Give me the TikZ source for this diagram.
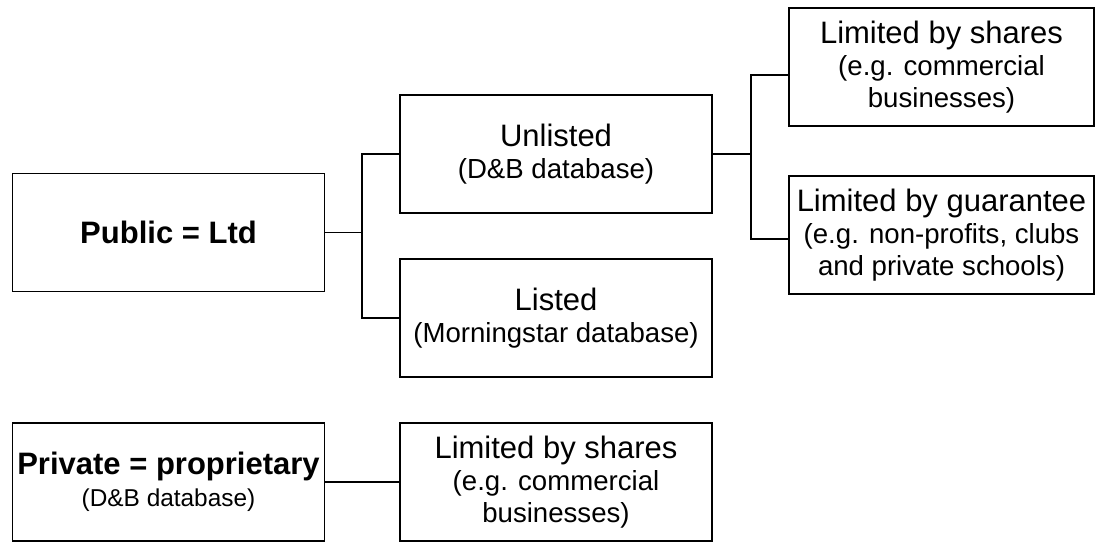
\documentclass[tikz,border=0pt]{standalone}
\usepackage{fontspec}
\setmainfont{Liberation Sans}
\usetikzlibrary{calc}
\newcommand\TitleF{\fontsize{15.5}{16.5}\selectfont}
\newcommand\SubF{\fontsize{13.8}{16}\selectfont}
\newcommand\SmallF{\fontsize{12.2}{15}\selectfont}
\begin{document}
\begin{tikzpicture}[x=0.5pt,y=-0.5pt,
  box/.style={draw=black, line width=0.75pt, inner sep=0pt, align=center,
    minimum width=156pt, minimum height=59pt, font=\SubF},
  rbox/.style={box, minimum width=152.5pt},
  link/.style={draw=black, line width=0.75pt}]
\useasboundingbox (0,0) rectangle (1095,543);
\node[box] (pub) at (168.5,232.5) {\TitleF\bfseries Public = Ltd};
\node[box] (unl) at (556,154) {{\TitleF Unlisted}\\(D\&B database)};
\node[box] (lis) at (556,318) {{\TitleF Listed}\\(Morningstar database)};
\node[rbox] (lbs) at (941.5,67) {{\TitleF Limited by shares}\\(e.g. commercial\\businesses)};
\node[rbox] (lbg) at (941.5,235) {{\TitleF Limited by guarantee}\\(e.g. non-profits, clubs\\and private schools)};
\node[box] (pri) at (168.5,482) {{\TitleF\bfseries Private = proprietary}\\{\SmallF (D\&B database)}};
\node[box] (lbs2) at (556,482) {{\TitleF Limited by shares}\\(e.g. commercial\\businesses)};
\coordinate (b1) at (362,0);
\coordinate (b2) at (751,0);
\coordinate (t1) at ($(lbs.west)+(0,8)$);
\coordinate (t2) at ($(lbg.west)+(0,4)$);
\path[link] (pub.east) -- (b1 |- pub.east);
\path[link] (unl.west) -| (b1 |- lis.west) -- (lis.west);
\path[link] (unl.east) -- (b2 |- unl.east);
\path[link] (t1) -| (b2 |- t2) -- (t2);
\path[link] (pri.east) -- (lbs2.west);
\end{tikzpicture}
\end{document}
